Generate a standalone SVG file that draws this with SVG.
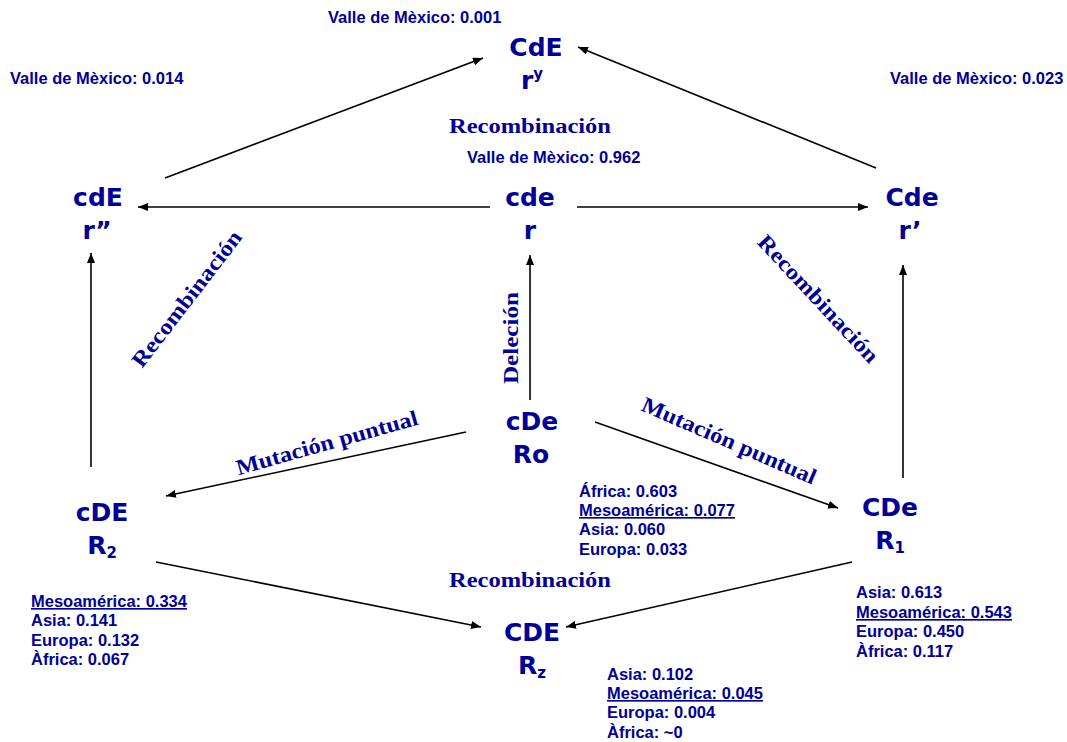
<svg xmlns="http://www.w3.org/2000/svg" width="1067" height="742" viewBox="0 0 1067 742">
<style>
.n{font-family:"DejaVu Sans","Liberation Sans",sans-serif;font-weight:bold;font-size:25px;fill:#000099;text-anchor:middle}
.s{font-size:15px}
.d{font-family:"Liberation Sans",Arial,sans-serif;font-weight:bold;font-size:16.5px;fill:#000099}
.u{text-decoration:underline}
.l{font-family:"Liberation Serif","DejaVu Serif",serif;font-weight:bold;font-size:22px;fill:#000099;text-anchor:middle}
.c line{stroke:#000;stroke-width:1.6;marker-end:url(#a)}
</style>
<defs>
<marker id="a" viewBox="0 0 10 8" refX="10" refY="4" markerWidth="10" markerHeight="8" markerUnits="userSpaceOnUse" orient="auto">
<path d="M0,0L10,4L0,8z" fill="#000"/>
</marker>
</defs>
<rect width="1067" height="742" fill="#fff"/>
<g class="c" id="connectors">
<line x1="165" y1="178" x2="483" y2="58"/>
<line x1="876" y1="168" x2="578" y2="47"/>
<line x1="490" y1="207" x2="138" y2="207"/>
<line x1="577" y1="207" x2="868" y2="207"/>
<line x1="91" y1="467" x2="91" y2="253"/>
<line x1="903" y1="478" x2="903" y2="265"/>
<line x1="530" y1="400" x2="530" y2="255"/>
<line x1="466" y1="432" x2="166" y2="496"/>
<line x1="595" y1="422" x2="838" y2="508"/>
<line x1="156" y1="562" x2="481" y2="627"/>
<line x1="852" y1="562" x2="566" y2="627"/>
</g>
<g id="CdE"><text class="n" x="536" y="56">CdE</text><text class="n" x="532" y="89">r<tspan class="s" dy="-10">y</tspan></text></g>
<g id="cdE"><text class="n" x="98" y="206">cdE</text><text class="n" x="97" y="239">r”</text></g>
<g id="cde"><text class="n" x="530" y="206">cde</text><text class="n" x="530" y="239">r</text></g>
<g id="Cde"><text class="n" x="912" y="206">Cde</text><text class="n" x="910" y="239">r’</text></g>
<g id="cDe"><text class="n" x="532" y="430">cDe</text><text class="n" x="531" y="463">Ro</text></g>
<g id="cDE"><text class="n" x="102" y="521">cDE</text><text class="n" x="102" y="554">R<tspan class="s" dy="4">2</tspan></text></g>
<g id="CDe"><text class="n" x="890" y="516">CDe</text><text class="n" x="890" y="549">R<tspan class="s" dy="4">1</tspan></text></g>
<g id="CDE"><text class="n" x="532" y="641">CDE</text><text class="n" x="532" y="674">R<tspan class="s" dy="4">z</tspan></text></g>
<g id="labels">
<text class="d" x="328" y="23">Valle de Mèxico: 0.001</text>
<text class="d" x="10" y="84">Valle de Mèxico: 0.014</text>
<text class="d" x="890" y="84">Valle de Mèxico: 0.023</text>
<text class="d" x="467" y="163">Valle de Mèxico: 0.962</text>
<text class="l" x="530" y="133" textLength="162" lengthAdjust="spacingAndGlyphs">Recombinación</text>
<text class="l" x="530" y="587" textLength="162" lengthAdjust="spacingAndGlyphs">Recombinación</text>
<text class="l" transform="translate(187,299) rotate(-52.5)" y="7" textLength="166" lengthAdjust="spacingAndGlyphs">Recombinación</text>
<text class="l" transform="translate(818,299) rotate(47)" y="7" textLength="166" lengthAdjust="spacingAndGlyphs">Recombinación</text>
<text class="l" transform="translate(511,338) rotate(-90)" y="7" textLength="92" lengthAdjust="spacingAndGlyphs">Deleción</text>
<text class="l" transform="translate(327,443) rotate(-15.7)" y="7" textLength="188" lengthAdjust="spacingAndGlyphs">Mutación puntual</text>
<text class="l" transform="translate(729,441) rotate(23.4)" y="7" textLength="188" lengthAdjust="spacingAndGlyphs">Mutación puntual</text>
</g>
<g id="data">
<text class="d" x="579" y="497">África: 0.603</text>
<text class="d u" x="579" y="516">Mesoamérica: 0.077</text>
<text class="d" x="579" y="535">Asia: 0.060</text>
<text class="d" x="579" y="555">Europa: 0.033</text>
<text class="d u" x="31" y="607">Mesoamérica: 0.334</text>
<text class="d" x="31" y="626">Asia: 0.141</text>
<text class="d" x="31" y="646">Europa: 0.132</text>
<text class="d" x="31" y="665">Àfrica: 0.067</text>
<text class="d" x="856" y="598">Asia: 0.613</text>
<text class="d u" x="856" y="618">Mesoamérica: 0.543</text>
<text class="d" x="856" y="637">Europa: 0.450</text>
<text class="d" x="856" y="657">Àfrica: 0.117</text>
<text class="d" x="607" y="680">Asia: 0.102</text>
<text class="d u" x="607" y="699">Mesoamérica: 0.045</text>
<text class="d" x="607" y="718">Europa: 0.004</text>
<text class="d" x="607" y="738">Àfrica: ~0</text>
</g>
</svg>
